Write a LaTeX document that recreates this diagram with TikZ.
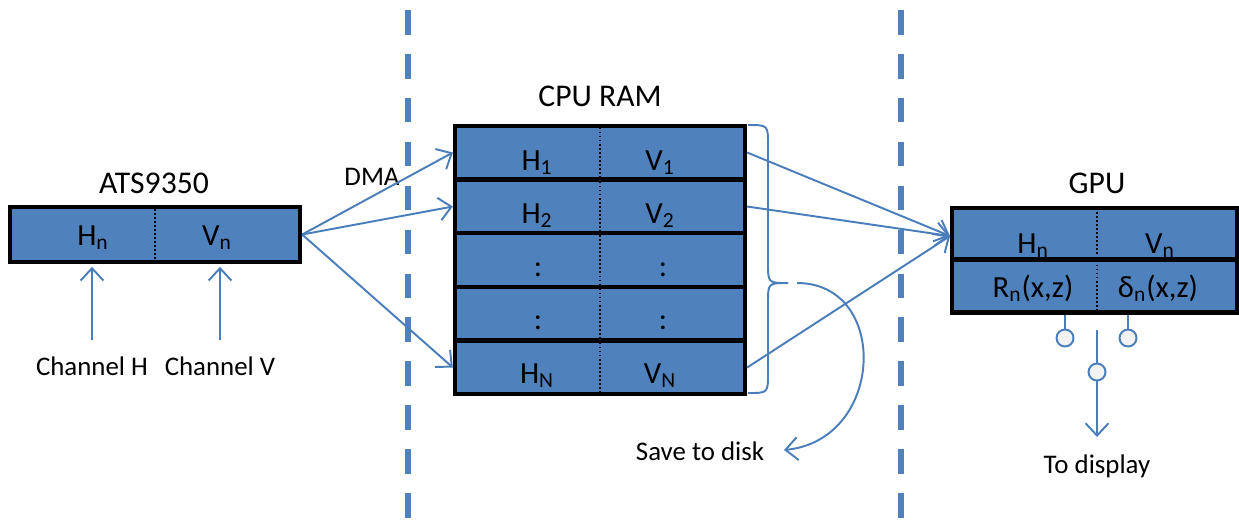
\documentclass[tikz,border=0pt]{standalone}
\usepackage{fontspec}
\setmainfont{Carlito}
\usetikzlibrary{arrows.meta,calc}
\definecolor{ofblue}{HTML}{4F81BD}
\definecolor{lnblue}{HTML}{4A7EBB}
\definecolor{swfill}{HTML}{F2F2F2}
\newcommand\sbs[1]{\textsubscript{#1}}
\tikzset{
 cell/.style={draw=black, line width=2.5pt, fill=ofblue, minimum width=5.8cm, minimum height=1.07cm, inner sep=0pt},
 boxtxt/.style={font=\fontsize{17.5}{20}\selectfont, inner sep=0pt, anchor=base},
 titletxt/.style={font=\fontsize{18}{21}\selectfont, inner sep=0pt, anchor=base},
 smalltxt/.style={font=\fontsize{15.3}{18}\selectfont, inner sep=0pt, anchor=base},
 conn/.style={draw=lnblue, line width=1.1pt},
 arr/.style={conn, -{Straight Barb[length=7pt,width=13pt,line width=1.1pt]}},
 divider/.style={draw=black, line width=1.1pt, dash pattern=on 1pt off 1.3pt},
 sepline/.style={draw=ofblue, line width=3.4pt, dash pattern=on 14pt off 11pt},
 swc/.style={circle, draw=lnblue, line width=1.1pt, fill=swfill, minimum size=0.34cm, inner sep=0pt},
}
\begin{document}
\begin{tikzpicture}[x=0.02cm,y=-0.02cm]
\useasboundingbox (0,0) rectangle (1239,529);
% separators
\coordinate (s1t) at (408,10); \coordinate (s1b) at (408,529);
\coordinate (s2t) at (901,10); \coordinate (s2b) at (901,529);
\draw[sepline] (s1t) -- (s1b);
\draw[sepline] (s2t) -- (s2b);
% ATS9350
\node[titletxt] (atst) at (154,193) {ATS9350};
\node[cell, minimum height=1.1cm] (ats) at (155,234.5) {};
\draw[divider] (ats.north) -- (ats.south);
\node[boxtxt] (atsH) at (93,245) {H\sbs{n}};
\node[boxtxt] (atsV) at (217,245) {V\sbs{n}};
\node[smalltxt] (chH) at (92,375) {Channel H};
\node[smalltxt] (chV) at (220,375) {Channel V};
\coordinate (chHs) at (92,340);
\coordinate (chVs) at (220,340);
\draw[arr, shorten >=1.5pt] (chHs) -- (chHs |- ats.south);
\draw[arr, shorten >=1.5pt] (chVs) -- (chVs |- ats.south);
% CPU RAM
\node[titletxt] (cput) at (600,106) {CPU RAM};
\node[cell] (r1) at (600,152.5) {};
\node[cell] (r2) at (600,206.5) {};
\node[cell] (r3) at (600,260) {};
\node[cell] (r4) at (600,313.5) {};
\node[cell] (r5) at (600,367.5) {};
\foreach \r in {r1,r2,r3,r4,r5} \draw[divider] (\r.north) -- (\r.south);
\node[boxtxt] (h1) at (537,170) {H\sbs{1}};
\node[boxtxt] (v1) at (660,170) {V\sbs{1}};
\node[boxtxt] (h2) at (537,223) {H\sbs{2}};
\node[boxtxt] (v2) at (660,223) {V\sbs{2}};
\node[boxtxt] (h3) at (538,276) {:};
\node[boxtxt] (v3) at (663,276) {:};
\node[boxtxt] (h4) at (538,329) {:};
\node[boxtxt] (v4) at (663,329) {:};
\node[boxtxt] (h5) at (537,383) {H\sbs{N}};
\node[boxtxt] (v5) at (660,383) {V\sbs{N}};
% DMA
\node[smalltxt] (dma) at (372,185) {DMA};
\draw[arr] (ats.east) -- (r1.west);
\draw[arr] (ats.east) -- (r2.west);
\draw[arr] (ats.east) -- (r5.west);
% GPU
\node[titletxt] (gput) at (1097,193) {GPU};
\node[cell, minimum width=5.7cm, minimum height=1.02cm] (g1) at (1094.5,233.5) {};
\node[cell, minimum width=5.7cm, minimum height=1.06cm] (g2) at (1094.5,286) {};
\coordinate (gdt) at (1097,208); \coordinate (gdb) at (1097,313);
\draw[divider] (gdt) -- (gdb);
\node[boxtxt] (gH) at (1033,253) {H\sbs{n}};
\node[boxtxt] (gV) at (1160,253) {V\sbs{n}};
\node[boxtxt] (gR) at (1033,297) {R\sbs{n}(x,z)};
\node[boxtxt] (gD) at (1158,297) {δ\sbs{n}(x,z)};
\coordinate (gin) at (950,236);
\draw[arr] (r1.east) -- (gin);
\draw[arr] (r2.east) -- (gin);
\draw[arr] (r5.east) -- (gin);
% brace
\coordinate (btip) at (788,283);
\draw[conn] (748,125) .. controls (768,125) .. (768,145) -- (768,263) .. controls (768,283) .. (btip);
\draw[conn] (btip) .. controls (768,283) .. (768,303) -- (768,373) .. controls (768,393) .. (748,393);
% save to disk
\node[smalltxt] (save) at (700,460) {Save to disk};
\coordinate (sstart) at (797,283);
\coordinate (send) at (784,450);
\draw[arr] (sstart) .. controls (890,283) and (885,440) .. (send);
% switch
\node[swc] (c1) at (1065,338) {};
\node[swc] (c2) at (1128,338) {};
\node[swc] (c3) at (1097,372) {};
\draw[conn] (c1 |- g2.south) -- (c1);
\draw[conn] (c2 |- g2.south) -- (c2);
\coordinate (swtop) at (1097,330);
\draw[conn] (swtop) -- (c3);
\node[smalltxt] (disp) at (1097,473) {To display};
\coordinate (dend) at (1097,437);
\draw[arr] (c3) -- (dend);
\end{tikzpicture}
\end{document}
